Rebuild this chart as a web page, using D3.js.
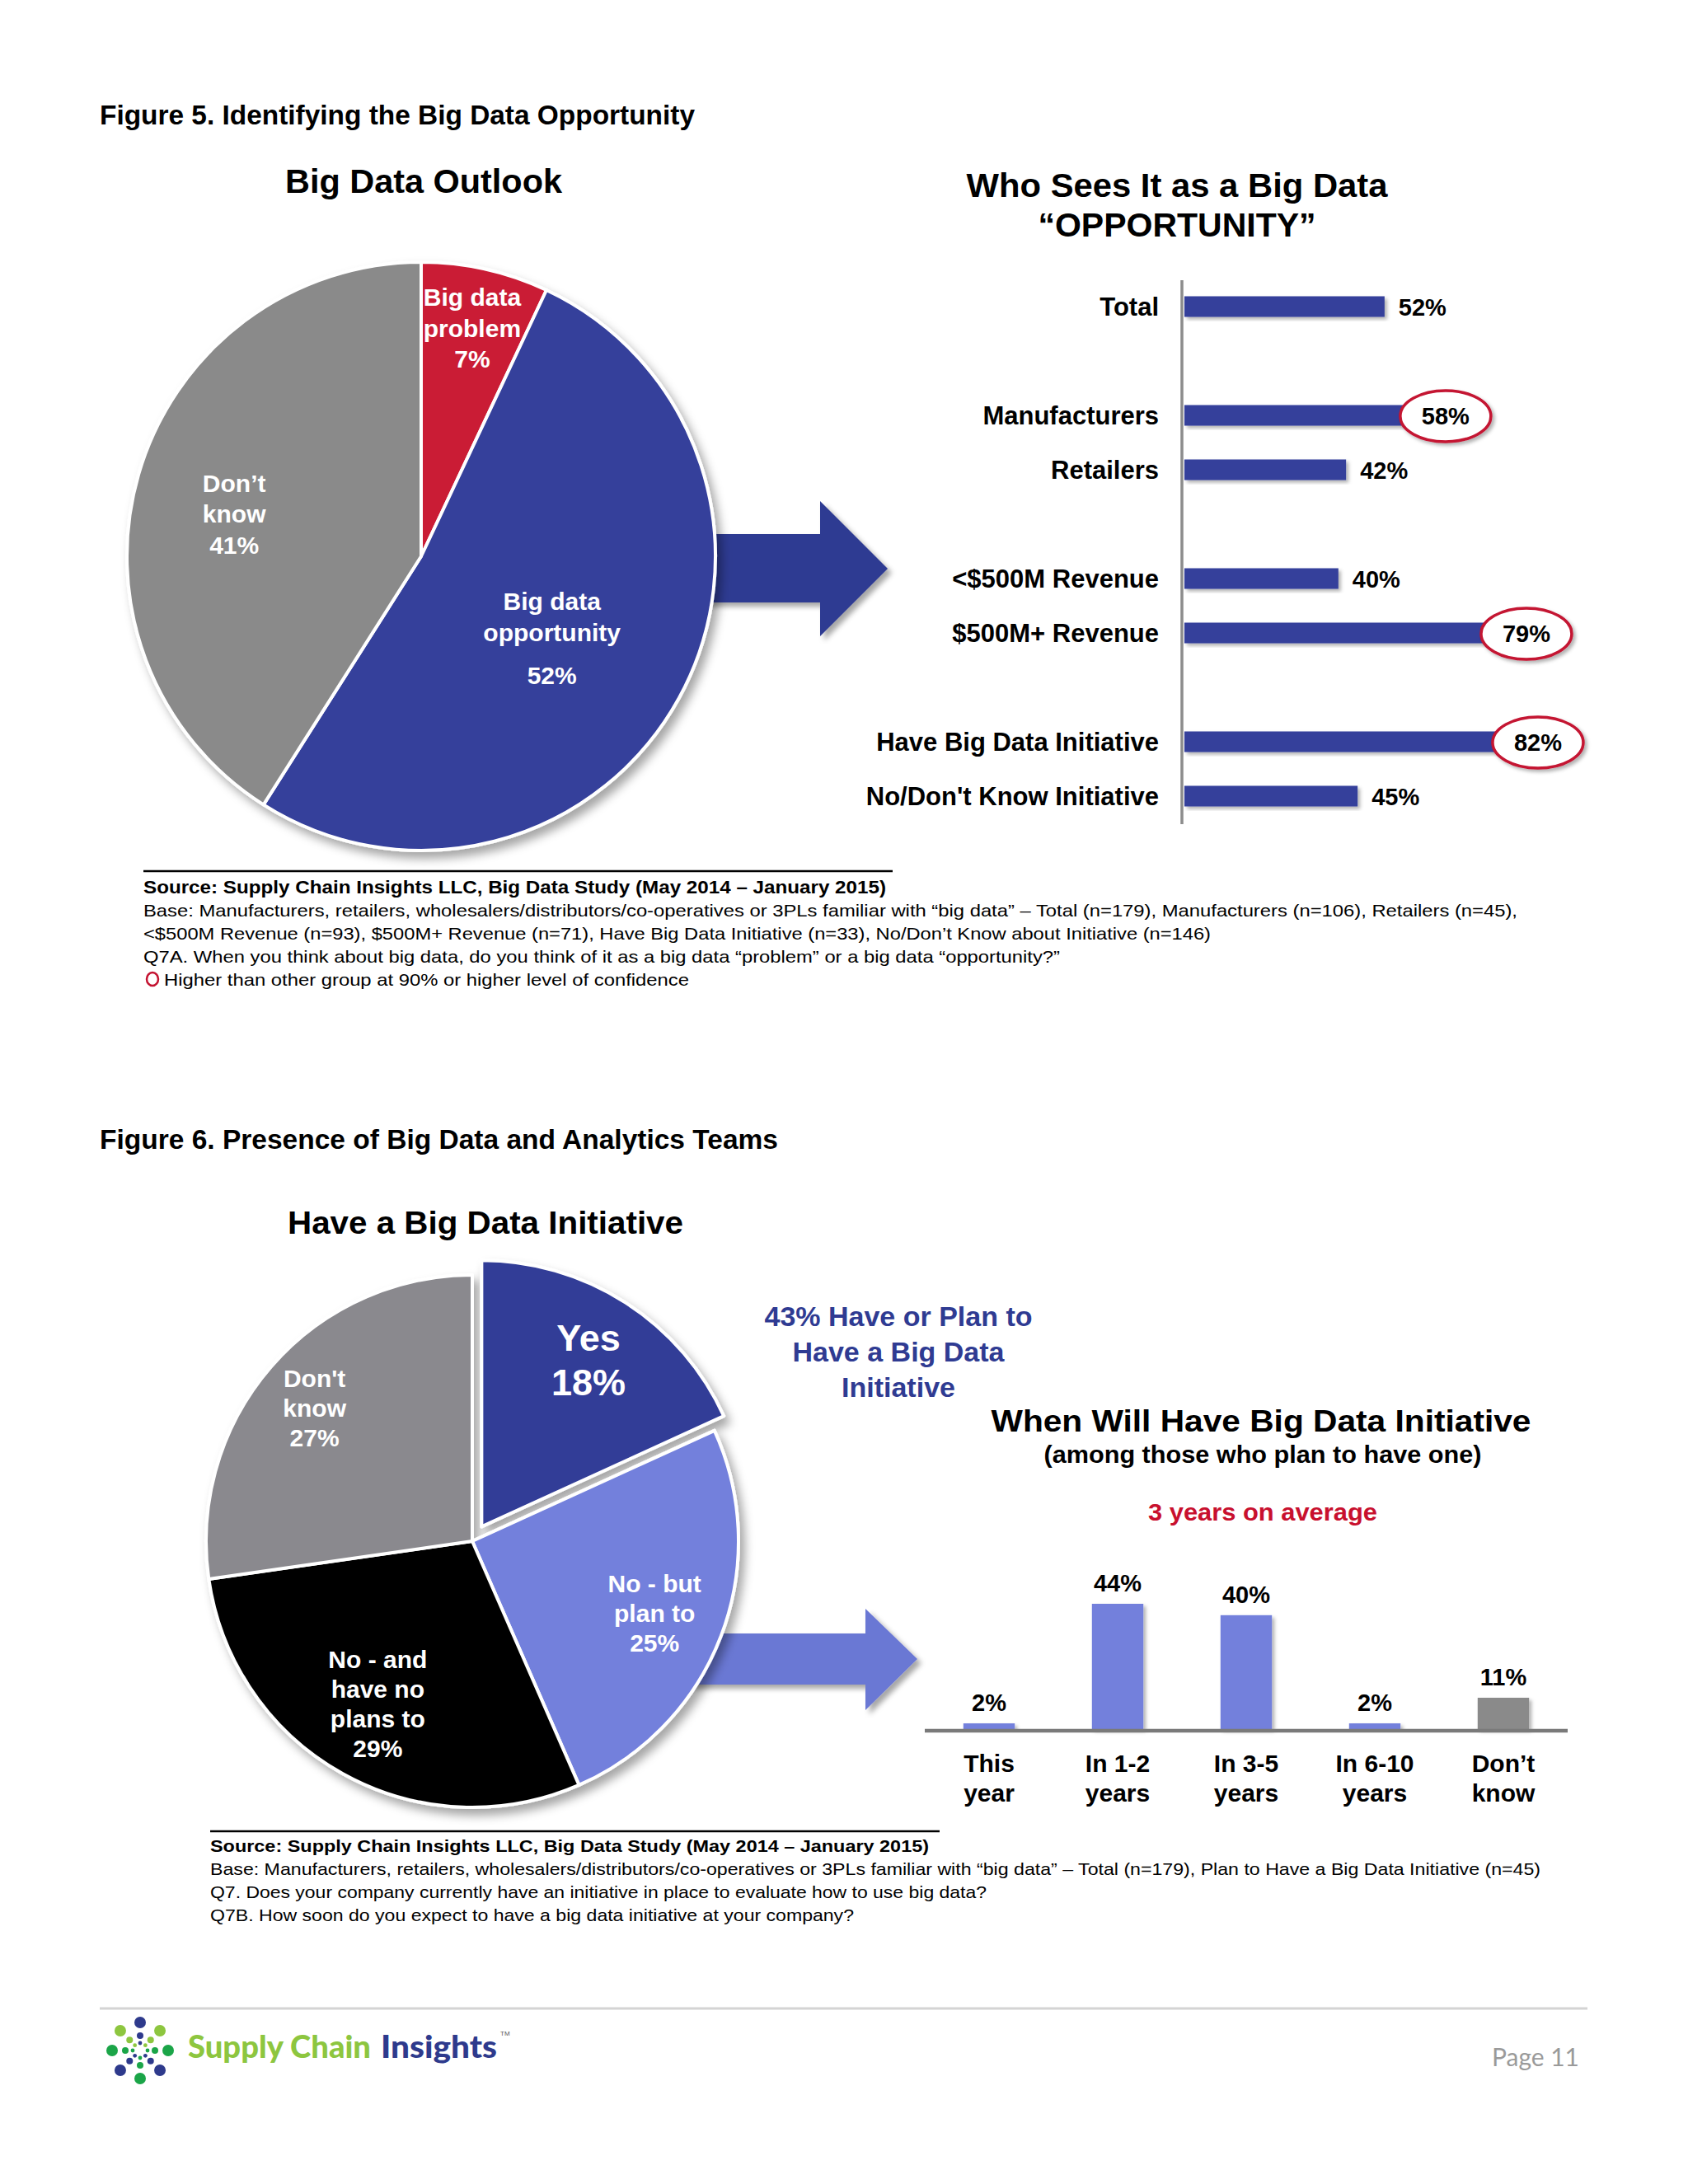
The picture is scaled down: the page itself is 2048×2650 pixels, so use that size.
<!DOCTYPE html>
<html>
<head>
<meta charset="utf-8">
<script src="https://cdn.jsdelivr.net/npm/d3@7/dist/d3.min.js"></script>
<style>
  body { margin: 0; background: #fff; }
  svg { display: block; }
  text { font-family: "Liberation Sans", Arial, sans-serif; }
</style>
</head>
<body>
<script>
// ---------- data ----------
var outlookLabels = [["Big data", "problem", "7%"], ["Big data", "opportunity", "52%"], ["Don\u2019t", "know", "41%"]];
var outlookValues = [7, 52, 41];

var oppCategories = ["Total", "Manufacturers", "Retailers", "<$500M Revenue", "$500M+ Revenue",
                     "Have Big Data Initiative", "No/Don't Know Initiative"];
var oppValues = [52, 58, 42, 40, 79, 82, 45];
var oppGroups = [0, 1, 1, 2, 2, 3, 3];
var oppHighlight = [false, true, false, false, true, true, false];

var initLabels = [["Yes", "18%"], ["No - but", "plan to", "25%"], ["No - and", "have no", "plans to", "29%"], ["Don't", "know", "27%"]];
var initValues = [18, 25, 29, 27];

var whenCategories = [["This", "year"], ["In 1-2", "years"], ["In 3-5", "years"], ["In 6-10", "years"], ["Don\u2019t", "know"]];
var whenValues = [2, 44, 40, 2, 11];

var notes5 = [
  "Base:  Manufacturers,  retailers,  wholesalers/distributors/co-operatives or 3PLs familiar  with  \u201cbig data\u201d \u2013 Total (n=179), Manufacturers (n=106), Retailers (n=45),",
  "<$500M Revenue (n=93), $500M+ Revenue (n=71), Have Big Data Initiative (n=33), No/Don\u2019t Know about Initiative (n=146)",
  "Q7A. When you think about big data, do you think  of it as a big data \u201cproblem\u201d or a big data \u201copportunity?\u201d"
];
var notes6 = [
  "Base:  Manufacturers,  retailers,  wholesalers/distributors/co-operatives or 3PLs familiar  with  \u201cbig data\u201d \u2013 Total (n=179), Plan to Have a Big Data Initiative (n=45)",
  "Q7. Does your company currently have an initiative  in place to evaluate how to use big data?",
  "Q7B. How soon do you expect to have a big data initiative at your company?"
];
var sourceText = "Source:  Supply Chain Insights LLC, Big Data Study  (May 2014 \u2013 January 2015)";

// ---------- colours ----------
var outlookColors = ["#CA1A35", "#343F9B", "#8A8A8A"];
var initColors = ["#303C97", "#7380DC", "#060606", "#8A898E"];
var darkBlue = "#2F3B92";

var svg = d3.select("body").append("svg")
  .attr("width", 2048).attr("height", 2650);
svg.append("rect").attr("width", 2048).attr("height", 2650).attr("fill", "#fff");

var defs = svg.append("defs");
function shadow(id, dx, dy, blur, op) {
  defs.append("filter").attr("id", id)
    .attr("x", "-20%").attr("y", "-20%").attr("width", "140%").attr("height", "140%")
    .append("feDropShadow")
    .attr("dx", dx).attr("dy", dy).attr("stdDeviation", blur)
    .attr("flood-color", "#000").attr("flood-opacity", op);
}
shadow("pieShadow", 6, 8, 6, 0.35);
shadow("arrowShadow", 5, 5, 3, 0.35);
shadow("barShadow", 3, 3, 2, 0.3);

function txt(g, x, y, s, o) {
  o = o || {};
  var t = g.append("text").attr("x", x).attr("y", y).text(s)
    .attr("font-size", o.size || 28)
    .attr("font-weight", o.weight || "bold")
    .attr("fill", o.fill || "#000")
    .attr("text-anchor", o.anchor || "start");
  if (o.mid) t.attr("dominant-baseline", "central");
  if (o.len) t.attr("textLength", o.len).attr("lengthAdjust", "spacingAndGlyphs");
  return t;
}

var pie = d3.pie().sort(null).value(function(d){ return d; });

// ================= FIGURE 5 =================
txt(svg, 121, 151, "Figure 5. Identifying the Big Data Opportunity", {size: 33, len: 722});
txt(svg, 514, 234, "Big Data Outlook", {size: 41, anchor: "middle", len: 336});

// arrow behind pie
svg.append("path")
  .attr("d", "M840,648 L995,648 L995,608 L1077,690 L995,772 L995,731 L840,731 Z")
  .attr("fill", darkBlue).attr("filter", "url(#arrowShadow)");

var c1 = {x: 511, y: 675}, r1 = 357;
var arc1 = d3.arc().innerRadius(0).outerRadius(r1);
var g1 = svg.append("g").attr("transform", "translate(" + c1.x + "," + c1.y + ")");
var arcs1 = pie(outlookValues);
g1.append("g").attr("filter", "url(#pieShadow)")
  .selectAll("path").data(arcs1).enter().append("path")
  .attr("d", arc1)
  .attr("fill", function(d, i){ return outlookColors[i]; })
  .attr("stroke", "#fff").attr("stroke-width", 4).attr("stroke-linejoin", "round");

var outlookLabelR = [0.795, 0.52, 0.65];
var outlookNudge = [[0, 0], [-4, 10], [-4, 14]];
var outlookLineDy = [[0, 38, 75], [0, 38, 90], [0, 37, 75]];
arcs1.forEach(function(d, i){
  var r = r1 * outlookLabelR[i];
  var pos = d3.arc().innerRadius(r).outerRadius(r).centroid(d);
  var dys = outlookLineDy[i];
  var x = pos[0] + outlookNudge[i][0];
  var top = pos[1] + outlookNudge[i][1] - dys[dys.length - 1] / 2;
  outlookLabels[i].forEach(function(line, j){
    txt(g1, x, top + dys[j], line, {size: 30, fill: "#fff", anchor: "middle", mid: true});
  });
});

// bar chart: who sees it as an opportunity
txt(svg, 1428, 239, "Who Sees  It as a Big Data", {size: 41, anchor: "middle", len: 511});
txt(svg, 1428, 287, "\u201cOPPORTUNITY\u201d", {size: 41, anchor: "middle"});

var oppX = d3.scaleLinear().domain([0, 100]).range([1437, 1904]);
var oppY = d3.scaleLinear().domain([0, 9]).range([372, 966]);
var barH = 25;
var gOpp = svg.append("g");
gOpp.selectAll("rect.bar").data(oppValues).enter().append("rect")
  .attr("class", "bar")
  .attr("x", oppX(0))
  .attr("y", function(d, i){ return oppY(i + oppGroups[i]) - barH / 2; })
  .attr("width", function(d){ return oppX(d) - oppX(0); })
  .attr("height", barH)
  .attr("fill", "#343F9B")
  .attr("filter", "url(#barShadow)");
gOpp.append("line")
  .attr("x1", 1434).attr("x2", 1434).attr("y1", 340).attr("y2", 1000)
  .attr("stroke", "#8c8c8c").attr("stroke-width", 3.5);

oppValues.forEach(function(v, i){
  var y = oppY(i + oppGroups[i]);
  txt(gOpp, 1406, y, oppCategories[i], {size: 31, anchor: "end", mid: true});
  var lx = oppX(v) + 17;
  if (oppHighlight[i]) {
    gOpp.append("ellipse")
      .attr("cx", lx + 29).attr("cy", y + 1).attr("rx", 55).attr("ry", 31)
      .attr("fill", "#fff").attr("stroke", "#C41230").attr("stroke-width", 3.5)
      .attr("filter", "url(#barShadow)");
  }
  txt(gOpp, lx, y + 1, v + "%", {size: 29, mid: true});
});

// source block fig 5
svg.append("line").attr("x1", 174).attr("x2", 1083).attr("y1", 1057).attr("y2", 1057)
  .attr("stroke", "#000").attr("stroke-width", 2.5);
txt(svg, 174, 1084, sourceText, {size: 22, len: 901});
var notes5Len = [1667, 1295, 1112];
notes5.forEach(function(s, i){
  txt(svg, 174, 1112 + i * 28, s, {size: 21, weight: "normal", len: notes5Len[i]});
});
svg.append("ellipse").attr("cx", 185).attr("cy", 1188).attr("rx", 7).attr("ry", 8)
  .attr("fill", "none").attr("stroke", "#C41230").attr("stroke-width", 2.5);
txt(svg, 199, 1196, "Higher than  other group at 90% or higher level of confidence", {size: 21, weight: "normal", len: 637});

// ================= FIGURE 6 =================
txt(svg, 121, 1394, "Figure 6. Presence of Big Data and Analytics Teams", {size: 33, len: 823});
txt(svg, 589, 1497, "Have a Big Data Initiative", {size: 39, anchor: "middle", len: 480});

// arrow behind pie
svg.append("path")
  .attr("d", "M760,1982 L1050,1982 L1050,1952 L1113,2013 L1050,2075 L1050,2044 L760,2044 Z")
  .attr("fill", "#6B78D4").attr("filter", "url(#arrowShadow)");

var c2 = {x: 573, y: 1870}, r2 = 323, explode = 21;
var arc2 = d3.arc().innerRadius(0).outerRadius(r2);
var g2 = svg.append("g").attr("transform", "translate(" + c2.x + "," + c2.y + ")");
var arcs2 = pie(initValues);
function offset(d, i) {
  if (i !== 0) return [0, 0];
  var a = (d.startAngle + d.endAngle) / 2;
  return [explode * Math.sin(a), -explode * Math.cos(a)];
}
g2.append("g").attr("filter", "url(#pieShadow)")
  .selectAll("path").data(arcs2).enter().append("path")
  .attr("d", arc2)
  .attr("transform", function(d, i){ var o = offset(d, i); return "translate(" + o[0] + "," + o[1] + ")"; })
  .attr("fill", function(d, i){ return initColors[i]; })
  .attr("stroke", "#fff").attr("stroke-width", 4).attr("stroke-linejoin", "round");

var labelArc2 = d3.arc().innerRadius(240).outerRadius(240);
var initNudge = [[0, 0], [-3, 2], [2, -12], [-10, -4]];
arcs2.forEach(function(d, i){
  var pos = labelArc2.centroid(d), o = offset(d, i);
  var big = i === 0;
  var step = big ? 54 : 36;
  var lines = initLabels[i];
  var top = pos[1] + o[1] + initNudge[i][1] - step * (lines.length - 1) / 2;
  lines.forEach(function(line, j){
    txt(g2, pos[0] + o[0] + initNudge[i][0], top + j * step, line,
        {size: big ? 45 : 30, fill: "#fff", anchor: "middle", mid: true});
  });
});

// call-out text
var callout = ["43% Have or Plan to", "Have a Big Data", "Initiative"];
callout.forEach(function(s, i){
  txt(svg, 1090, 1609 + i * 43, s, {size: 34, anchor: "middle", fill: darkBlue});
});

// when will have bar chart
txt(svg, 1530, 1737, "When Will Have Big Data Initiative", {size: 37, anchor: "middle", len: 655});
txt(svg, 1532, 1775, "(among those who plan to have one)", {size: 29, anchor: "middle", len: 531});
txt(svg, 1532, 1845, "3 years on average", {size: 30, anchor: "middle", fill: "#C8102E", len: 278});

var whenX = d3.scaleBand().domain(d3.range(whenValues.length))
  .range([1122, 1902]).paddingInner(0.6).paddingOuter(0.3);
var whenY = d3.scaleLinear().domain([0, 44]).range([2098, 1946]);
var gWhen = svg.append("g");
gWhen.selectAll("rect").data(whenValues).enter().append("rect")
  .attr("x", function(d, i){ return whenX(i); })
  .attr("y", function(d){ return whenY(d); })
  .attr("width", whenX.bandwidth())
  .attr("height", function(d){ return whenY(0) - whenY(d); })
  .attr("fill", function(d, i){ return i === whenValues.length - 1 ? "#8A8A8A" : "#7380DC"; })
  .attr("filter", "url(#barShadow)");
gWhen.append("line").attr("x1", 1122).attr("x2", 1902).attr("y1", 2100).attr("y2", 2100)
  .attr("stroke", "#7a7a7a").attr("stroke-width", 4.5);
whenValues.forEach(function(v, i){
  var cx = whenX(i) + whenX.bandwidth() / 2;
  txt(gWhen, cx, whenY(v) - 15, v + "%", {size: 29, anchor: "middle"});
  whenCategories[i].forEach(function(line, j){
    txt(gWhen, cx, 2150 + j * 36, line, {size: 30, anchor: "middle"});
  });
});

// source block fig 6
svg.append("line").attr("x1", 255).attr("x2", 1140).attr("y1", 2222).attr("y2", 2222)
  .attr("stroke", "#000").attr("stroke-width", 2.5);
txt(svg, 255, 2247, sourceText, {size: 21, len: 872});
var notes6Len = [1614, 942, 781];
notes6.forEach(function(s, i){
  txt(svg, 255, 2275 + i * 28, s, {size: 21, weight: "normal", len: notes6Len[i]});
});

// ================= footer =================
svg.append("line").attr("x1", 121).attr("x2", 1926).attr("y1", 2437).attr("y2", 2437)
  .attr("stroke", "#d4d4d4").attr("stroke-width", 3);

var logo = svg.append("g").attr("transform", "translate(170,2488)");
var ringColors = ["#2E3A8C", "#8DC63F", "#1BA548", "#2E3A8C", "#1BA548", "#2E3A8C", "#1BA548", "#8DC63F"];
[[34, 7], [18, 4], [9, 2.4]].forEach(function(ring){
  ringColors.forEach(function(col, k){
    var a = k * Math.PI / 4;
    logo.append("circle")
      .attr("cx", ring[0] * Math.sin(a)).attr("cy", -ring[0] * Math.cos(a))
      .attr("r", ring[1]).attr("fill", col);
  });
});
txt(svg, 228, 2497, "Supply Chain", {size: 38, fill: "#8DC63F", weight: 900, len: 222}).style("font-family", "Lato, 'Open Sans', sans-serif");
txt(svg, 462, 2497, "Insights", {size: 38, fill: "#2E3A8C", weight: 900, len: 141}).style("font-family", "Lato, 'Open Sans', sans-serif");
txt(svg, 607, 2470, "TM", {size: 8, fill: "#555", weight: "normal"});
txt(svg, 1916, 2507, "Page 11", {size: 30, fill: "#9a9a9a", weight: "normal", anchor: "end", len: 106}).style("font-family", "Lato, 'Open Sans', sans-serif");
</script>
</body>
</html>
